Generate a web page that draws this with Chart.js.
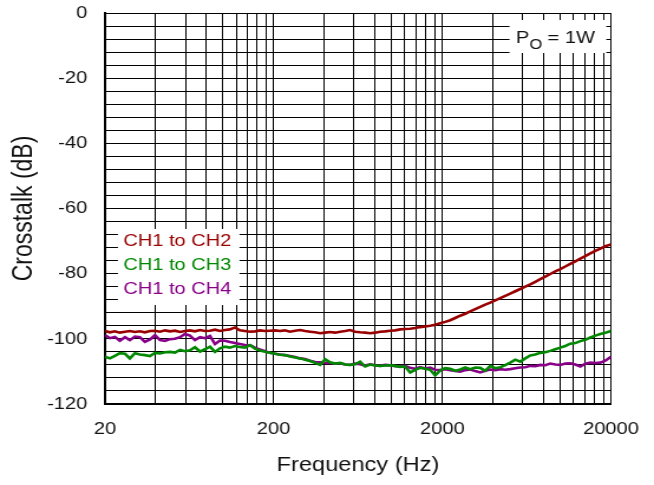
<!DOCTYPE html>
<html>
<head>
<meta charset="utf-8">
<script src="https://cdn.jsdelivr.net/npm/chart.js@4.4.1/dist/chart.umd.min.js"></script>
<style>
  html, body { margin: 0; padding: 0; background: #fff; overflow: hidden; }
  /* the source picture is stretched sideways, so draw narrower and stretch */
  #wrap { width: 554px; height: 485px; transform: scaleX(1.1805); transform-origin: 0 0; }
</style>
</head>
<body>
<div id="wrap"><canvas id="xtalkChart"></canvas></div>
<script>
// Frequency points (Hz)
var freqHz = [
  20, 21.4, 22.9, 24.5, 26.3, 28.1, 30.1, 32.2, 34.5, 37.0,
  39.6, 42.4, 45.4, 48.6, 52.0, 55.7, 59.6, 63.8, 68.3, 73.2,
  78.3, 83.9, 89.8, 96.1, 103, 110, 118, 126, 135, 145,
  155, 166, 178, 190, 204, 218, 233, 250, 268, 287,
  307, 329, 352, 377, 404, 432, 463, 496, 531, 568,
  608, 651, 697, 747, 799, 856, 916, 981, 1050, 1124,
  1204, 1289, 1380, 1478, 1582, 1694, 1814, 1942, 2079, 2226,
  2384, 2552, 2733, 2926, 3133, 3354, 3591, 3845, 4117, 4408,
  4719, 5053, 5410, 5793, 6202, 6641, 7110, 7613, 8151, 8727,
  9344, 10005, 10712, 11469, 12280, 13149, 14078, 15073, 16138, 17279,
  18500, 20000
];

// Crosstalk (dB)
var ch1ToCh2 = [
  -97.6, -98.0, -97.7, -98.1, -97.8, -97.6, -97.9, -97.7, -98.0, -97.6,
  -97.5, -97.8, -97.4, -97.7, -97.5, -97.9, -97.6, -97.4, -97.7, -97.3,
  -97.6, -97.5, -97.2, -97.6, -97.3, -97.1, -96.5, -97.4, -97.6, -97.8,
  -97.7, -97.4, -97.6, -97.5, -97.4, -97.6, -97.4, -97.8, -97.5, -97.3,
  -97.6, -97.8, -98.0, -98.3, -98.1, -97.9, -98.1, -97.8, -97.6, -97.3,
  -97.8, -98.0, -98.1, -98.3, -98.1, -97.8, -97.7, -97.5, -97.4, -97.1,
  -97.0, -96.9, -96.7, -96.4, -96.2, -96.0, -95.7, -95.2, -94.8, -94.3,
  -93.6, -92.9, -92.3, -91.6, -90.9, -90.2, -89.5, -88.9, -88.2, -87.5,
  -86.8, -86.1, -85.4, -84.7, -84.0, -83.3, -82.5, -81.7, -80.9, -80.1,
  -79.3, -78.6, -77.8, -77.0, -76.2, -75.4, -74.6, -73.8, -73.0, -72.3,
  -71.6, -71.0
];
var ch1ToCh3 = [
  -105.5, -106.0, -105.2, -104.4, -104.6, -106.0, -104.4, -104.8, -105.0, -105.3,
  -104.3, -104.5, -104.1, -104.0, -104.2, -103.4, -103.8, -103.5, -102.6, -103.9,
  -103.2, -102.4, -104.0, -102.9, -102.4, -102.7, -102.2, -102.5, -102.7, -101.9,
  -103.0, -103.6, -104.0, -104.3, -104.6, -104.9, -105.0, -105.4, -105.7, -106.0,
  -106.4, -106.8, -107.4, -108.0, -106.3, -107.2, -107.6, -107.4, -107.9, -108.0,
  -107.8, -107.0, -108.5, -107.9, -108.2, -108.3, -108.2, -108.1, -108.3, -108.6,
  -108.5, -110.3, -109.5, -108.9, -109.2, -109.5, -111.2, -109.7, -109.0, -109.2,
  -109.8, -109.4, -108.8, -109.3, -108.8, -108.9, -109.8, -108.3, -109.0, -108.7,
  -108.1, -107.3, -106.4, -107.0, -106.0, -105.1, -104.8, -104.3, -104.1, -103.7,
  -103.2, -102.7, -102.2, -101.5, -101.3, -100.7, -100.3, -99.6, -99.0, -98.5,
  -98.1, -97.6
];
var ch1ToCh4 = [
  -98.8, -99.8, -99.4, -100.6, -99.5, -100.4, -99.3, -99.5, -100.9, -100.2,
  -98.9, -100.4, -100.6, -100.1, -100.0, -99.5, -98.5, -99.0, -100.4, -99.5,
  -99.8, -99.1, -101.6, -100.5, -100.6, -101.0, -101.3, -101.6, -101.9, -102.0,
  -102.7, -103.3, -103.8, -104.3, -104.6, -104.8, -105.0, -105.3, -105.6, -106.0,
  -106.2, -106.7, -107.1, -107.2, -107.4, -107.4, -107.6, -107.5, -107.9, -108.0,
  -107.6, -107.8, -108.2, -107.8, -108.1, -108.3, -108.0, -108.1, -108.4, -108.5,
  -108.3, -108.9, -109.2, -108.7, -109.1, -108.8, -109.5, -109.6, -109.3, -109.6,
  -109.9, -110.1, -109.6, -109.4, -109.9, -110.3, -109.8, -109.4, -109.6, -109.3,
  -109.5, -109.3, -109.0, -108.8, -108.7, -108.3, -108.4, -108.0, -108.1, -107.6,
  -107.9, -108.0, -107.6, -107.5, -107.9, -108.5, -107.6, -107.3, -107.4, -107.3,
  -106.7, -105.5
];

// Axis ticks
var freqLabels = [20, 200, 2000, 20000];
var freqGridSteps = [1, 2, 3, 4, 5, 6, 7, 8, 9];   // x 20 per decade
var dbLabels = [0, -20, -40, -60, -80, -100, -120];
var dbGridStep = 4;

var seriesNames = ["CH1 to CH2", "CH1 to CH3", "CH1 to CH4"];
var seriesColors = ["#990000", "#008800", "#880088"];
var noteText = { main: "P", sub: "O", rest: " = 1W" };

var fontFamily = "Arial, 'Liberation Sans', sans-serif";

function toPoints(values) {
    return values.map(function (v, i) { return { x: freqHz[i], y: v }; });
}

// White boxes with the series names and the power note
var notesPlugin = {
    id: 'notes',
    beforeDatasetsDraw: function (chart) {
        var ctx = chart.ctx;
        var area = chart.chartArea;
        ctx.save();

        // legend box
        var lx = area.left + 11, ly = 229;
        ctx.fillStyle = '#fff';
        ctx.fillRect(lx, ly, 103, 76);
        ctx.font = "17px " + fontFamily;
        ctx.textBaseline = 'middle';
        ctx.textAlign = 'left';
        chart.data.datasets.forEach(function (ds, i) {
            ctx.fillStyle = ds.borderColor;
            ctx.fillText(ds.label, lx + 4.5, ly + 12 + i * 24);
        });

        // P_O = 1W box
        var px = area.right - 86, py = area.top + 7;
        ctx.fillStyle = '#fff';
        ctx.fillRect(px, py, 82, 33);
        ctx.fillStyle = '#111';
        ctx.textBaseline = 'alphabetic';
        ctx.font = "17px " + fontFamily;
        ctx.fillText(noteText.main, px + 5.5, py + 22.5);
        ctx.font = "14px " + fontFamily;
        ctx.fillText(noteText.sub, px + 17, py + 28.5);
        ctx.font = "17px " + fontFamily;
        ctx.fillText(noteText.rest, px + 27.5, py + 22.5);
        ctx.restore();
    }
};

var ctx = document.getElementById("xtalkChart");
var myChart = new Chart(ctx, {
    type: 'line',
    data: {
        datasets: seriesNames.map(function (name, i) {
            return {
                label: name,
                data: toPoints([ch1ToCh2, ch1ToCh3, ch1ToCh4][i]),
                borderColor: seriesColors[i],
                backgroundColor: seriesColors[i],
                borderWidth: 2.6,
                pointRadius: 0,
                tension: 0,
                fill: false
            };
        })
    },
    options: {
        responsive: true,
        maintainAspectRatio: false,
        animation: false,
        events: [],
        layout: {
            padding: { top: 13, right: 36.4, left: 0, bottom: 0 }
        },
        scales: {
            x: {
                type: 'logarithmic',
                min: 20,
                max: 20000,
                afterBuildTicks: function (scale) {
                    var ticks = [];
                    [20, 200, 2000].forEach(function (decade) {
                        freqGridSteps.forEach(function (k) {
                            ticks.push({ value: decade * k });
                        });
                    });
                    ticks.push({ value: 20000 });
                    scale.ticks = ticks;
                },
                afterFit: function (scale) {
                    scale.height = 81;
                    scale.paddingLeft = 0;
                    scale.paddingRight = 0;
                },
                grid: {
                    color: '#000',
                    lineWidth: 1,
                    drawTicks: false
                },
                border: {
                    color: '#000',
                    width: 2
                },
                ticks: {
                    autoSkip: false,
                    maxRotation: 0,
                    padding: 15,
                    color: '#111',
                    font: { family: fontFamily, size: 17 },
                    callback: function (v) {
                        return freqLabels.indexOf(v) >= 0 ? String(v) : '';
                    }
                },
                title: {
                    display: true,
                    text: 'Frequency (Hz)',
                    color: '#111',
                    font: { family: fontFamily, size: 20 },
                    padding: { top: 0, bottom: 8 }
                }
            },
            y: {
                min: -120,
                max: 0,
                afterBuildTicks: function (scale) {
                    var ticks = [];
                    for (var v = -120; v <= 0; v += dbGridStep) {
                        ticks.push({ value: v });
                    }
                    scale.ticks = ticks;
                },
                afterFit: function (scale) {
                    scale.width = 88.9;
                    scale.paddingTop = 0;
                    scale.paddingBottom = 0;
                },
                grid: {
                    color: '#000',
                    lineWidth: 1,
                    drawTicks: false
                },
                border: {
                    color: '#000',
                    width: 2
                },
                ticks: {
                    autoSkip: false,
                    padding: 15,
                    color: '#111',
                    font: { family: fontFamily, size: 17 },
                    callback: function (v) {
                        return dbLabels.indexOf(v) >= 0 ? String(v) : '';
                    }
                },
                title: {
                    display: true,
                    text: 'Crosstalk (dB)',
                    color: '#111',
                    font: { family: fontFamily, size: 23 },
                    padding: { top: 7, bottom: 0 }
                }
            }
        },
        plugins: {
            legend: { display: false },
            tooltip: { enabled: false }
        }
    },
    plugins: [notesPlugin]
});
</script>
</body>
</html>
